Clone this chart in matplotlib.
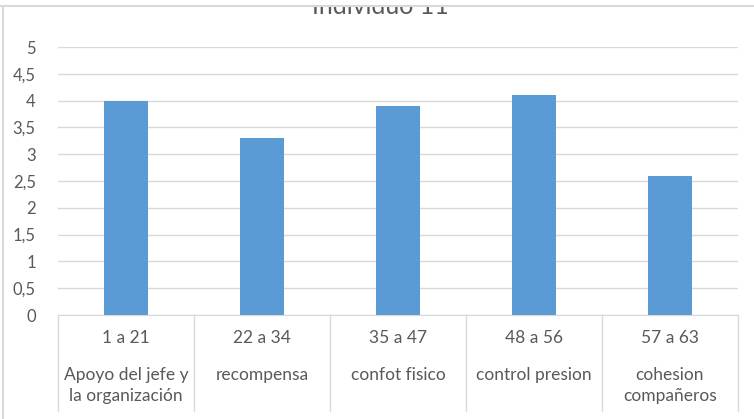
import matplotlib.pyplot as plt
from matplotlib.ticker import FuncFormatter, MultipleLocator
from matplotlib.patches import Rectangle
from matplotlib.lines import Line2D

plt.rcParams['font.family'] = ['Lato', 'DejaVu Sans']

# puntajes por dimension
rangos = ["1 a 21", "22 a 34", "35 a 47", "48 a 56", "57 a 63"]
dimensiones = ["Apoyo del jefe y\nla organización", "recompensa", "confot fisico",
               "control presion", "cohesion\ncompañeros"]
puntajes = [4.0, 3.3, 3.9, 4.1, 2.6]

W, H = 754, 419
fig = plt.figure(figsize=(W / 100, H / 100), dpi=100)
ax = fig.add_axes([58 / W, 1 - 315 / H, 680 / W, 268 / H])

gris = "#595959"
linea = "#D9D9D9"

x = range(len(puntajes))
ax.bar(x, puntajes, width=0.32, color="#5B9BD5", zorder=3)

ax.set_xlim(-0.5, len(puntajes) - 0.5)
ax.set_ylim(0, 5)
ax.yaxis.set_major_locator(MultipleLocator(0.5))
ax.yaxis.set_major_formatter(FuncFormatter(lambda v, p: f"{v:g}".replace(".", ",")))
ax.grid(axis="y", color=linea, linewidth=1, zorder=0)
ax.tick_params(axis="y", length=0, pad=16, labelsize=12, labelcolor=gris)
ax.set_xticks([])
for s in ["top", "right", "left"]:
    ax.spines[s].set_visible(False)
ax.spines["bottom"].set_color(linea)

# tabla de etiquetas bajo el eje
fondo = -96 / 268
for i in range(len(puntajes) + 1):
    ax.plot([i - 0.5, i - 0.5], [0, fondo], color=linea, lw=1,
            transform=ax.get_xaxis_transform(), clip_on=False)
for i, (r, d) in enumerate(zip(rangos, dimensiones)):
    ax.text(i, -23 / 268, r, ha="center", va="center", fontsize=12.5, color=gris,
            transform=ax.get_xaxis_transform())
    ax.text(i, -52 / 268, d, ha="center", va="top", fontsize=12.5, color=gris,
            linespacing=1.35, transform=ax.get_xaxis_transform())

# titulo recortado por el borde superior
fig.text(0.504, 1 - 14 / H, "Individuo 11", ha="center", va="baseline",
         fontsize=18, color=gris)
fig.patches.append(Rectangle((0, 1 - 6 / H), 1, 6 / H, transform=fig.transFigure,
                             facecolor="white", edgecolor="none", zorder=5))
fig.lines.append(Line2D([0, 1], [1 - 6 / H, 1 - 6 / H], transform=fig.transFigure,
                        color=linea, lw=1.5, zorder=6))
fig.lines.append(Line2D([3 / W, 3 / W], [0, 1 - 6 / H], transform=fig.transFigure,
                        color=linea, lw=1.5, zorder=6))

fig.savefig("out.png", dpi=100)
